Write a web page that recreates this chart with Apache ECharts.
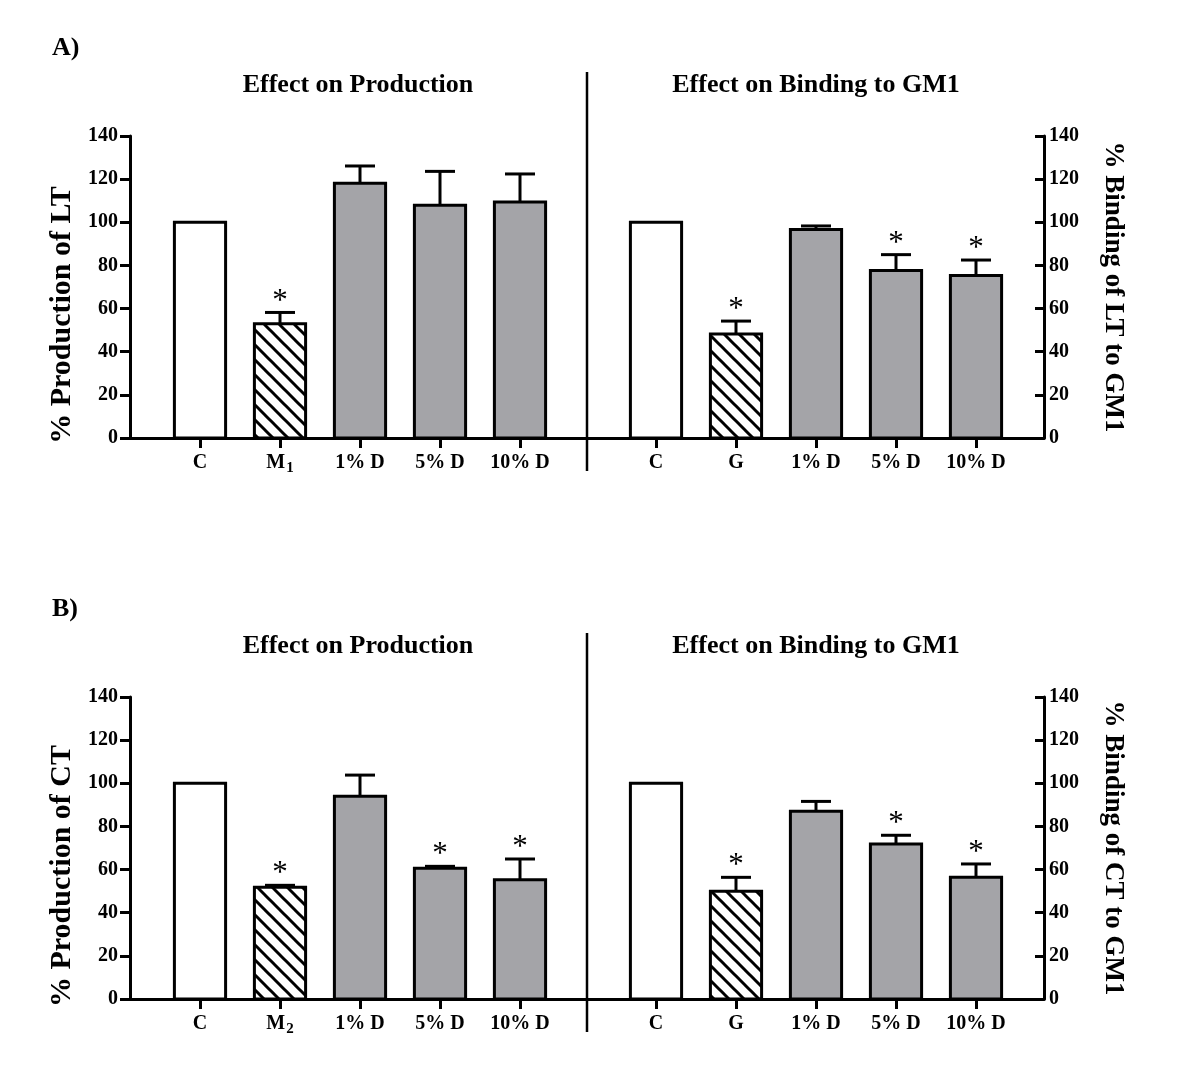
<!DOCTYPE html>
<html><head><meta charset="utf-8">
<script src="https://cdn.jsdelivr.net/npm/echarts@6/dist/echarts.min.js"></script>
<style>html,body{margin:0;padding:0;background:#fff}#c{width:1200px;height:1091px}</style>
</head><body><div id="c"></div>
<script>
// ---------- data ----------
const catsProdA = ['C', 'M₁', '1% D', '5% D', '10% D'];
const catsBindA = ['C', 'G', '1% D', '5% D', '10% D'];
const catsProdB = ['C', 'M₂', '1% D', '5% D', '10% D'];
const catsBindB = ['C', 'G', '1% D', '5% D', '10% D'];

const prodLT    = [100, 53.0, 118.1, 107.9, 109.4];
const prodLTErr = [0, 5.2, 8.0, 15.7, 13.0];
const prodLTSig = [0, 1, 0, 0, 0];

const bindLT    = [100, 48.2, 96.7, 77.6, 75.3];
const bindLTErr = [0, 6.0, 1.6, 7.4, 7.2];
const bindLTSig = [0, 1, 0, 1, 1];

const prodCT    = [100, 51.8, 94.0, 60.6, 55.3];
const prodCTErr = [0, 0.9, 9.8, 0.9, 9.6];
const prodCTSig = [0, 1, 0, 1, 1];

const bindCT    = [100, 49.9, 87.0, 71.9, 56.4];
const bindCTErr = [0, 6.5, 4.6, 4.0, 6.2];
const bindCTSig = [0, 1, 0, 1, 1];

const yMin = 0, yMax = 140, yStep = 20;

const panelTitles = ['A)', 'B)'];
const halfTitles = ['Effect on Production', 'Effect on Binding to GM1'];
const yNamesLeft = ['% Production of LT', '% Production of CT'];
const yNamesRight = ['% Binding of LT to GM1', '% Binding of CT to GM1'];

// ---------- layout helpers ----------
const FONT = '"Liberation Serif", "Times New Roman", serif';
const GRAY = '#a4a4a8';
const LEFT_OFF = 0.875, RIGHT_OFF = 6.575, X_MAX = 11.425;
const leftPos = i => i + LEFT_OFF;
const rightPos = i => i + RIGHT_OFF;
const allPos = [0,1,2,3,4].map(leftPos).concat([0,1,2,3,4].map(rightPos));

// hatch pattern
const hc = document.createElement('canvas');
const HS = 15;
hc.width = HS; hc.height = HS;
const hx = hc.getContext('2d');
hx.fillStyle = '#fff'; hx.fillRect(0, 0, HS, HS);
hx.strokeStyle = '#000'; hx.lineWidth = 3;
[[0,0,HS,HS],[-HS,0,0,HS],[0,-HS,HS,0]].forEach(s => { hx.beginPath(); hx.moveTo(s[0]-2, s[1]-2); hx.lineTo(s[2]+2, s[3]+2); hx.stroke(); });
const hatch = { image: hc, repeat: 'repeat' };

function renderItem(params, api) {
  const x = api.value(0), v = api.value(1), e = api.value(2), sig = api.value(3), kind = api.value(4);
  const base = api.coord([x, 0]);
  const top = api.coord([x, v]);
  const bw = api.size([1, 0])[0] * 0.64;
  const fill = kind === 0 ? '#fff' : (kind === 1 ? hatch : GRAY);
  const ch = [];
  let markTop = top[1];
  if (e > 0) {
    const et = api.coord([x, v + e]);
    markTop = et[1];
    ch.push({ type: 'line', shape: { x1: top[0], y1: top[1], x2: top[0], y2: et[1] }, style: { stroke: '#000', lineWidth: 3 } });
    ch.push({ type: 'line', shape: { x1: top[0] - 15, y1: et[1], x2: top[0] + 15, y2: et[1] }, style: { stroke: '#000', lineWidth: 3 } });
  }
  ch.push({ type: 'rect', shape: { x: top[0] - bw / 2, y: top[1], width: bw, height: base[1] - top[1] },
            style: { fill: fill, stroke: '#000', lineWidth: 3 } });
  if (sig) {
    ch.push({ type: 'text', style: { text: '*', x: top[0], y: markTop - 11, align: 'center', verticalAlign: 'middle',
              font: 'normal 31px ' + FONT, fill: '#000' } });
  }
  return { type: 'group', children: ch };
}

function seriesData(vals, errs, sigs, posFn) {
  return vals.map((v, i) => [posFn(i), v, errs[i], sigs[i], i === 0 ? 0 : (i === 1 ? 1 : 2)]);
}

const gridTops = [136, 697];
const panelShift = 561;
const catsByPanel = [catsProdA.concat(catsBindA), catsProdB.concat(catsBindB)];

const option = {
  animation: false,
  backgroundColor: '#fff',
  grid: gridTops.map(t => ({ left: 130, right: 156, top: t, height: 302 })),
  xAxis: [0, 1].map(p => ({
    type: 'value', gridIndex: p, min: 0, max: X_MAX,
    axisLine: { show: true, lineStyle: { color: '#000', width: 3 } },
    splitLine: { show: false },
    axisTick: { show: true, customValues: allPos, length: 10, lineStyle: { color: '#000', width: 3 } },
    axisLabel: {
      customValues: allPos, margin: 15, color: '#000', fontFamily: FONT, fontWeight: 'bold', fontSize: 20,
      formatter: val => {
        let idx = allPos.findIndex(q => Math.abs(q - val) < 1e-6);
        if (idx < 0) return '';
        const s = catsByPanel[p][idx];
        if (s.indexOf('₁') >= 0 || s.indexOf('₂') >= 0) {
          return '{m|' + s.replace(/[₁₂]/g, '') + '}{s|' + (s.indexOf('₁') >= 0 ? '1' : '2') + '}';
        }
        return s;
      },
      rich: {
        m: { fontSize: 20, fontWeight: 'bold', fontFamily: FONT, color: '#000', verticalAlign: 'top', lineHeight: 22 },
        s: { fontSize: 15, fontWeight: 'bold', fontFamily: FONT, color: '#000', verticalAlign: 'top', lineHeight: 18, padding: [8, 0, 0, 1] }
      }
    }
  })),
  yAxis: [],
  series: [],
  graphic: []
};

[0, 1].forEach(p => {
  option.yAxis.push({
    type: 'value', gridIndex: p, position: 'left', min: yMin, max: yMax, interval: yStep,
    name: yNamesLeft[p], nameLocation: 'middle', nameGap: 42,
    nameTextStyle: { fontFamily: FONT, fontWeight: 'bold', fontSize: 30, color: '#000', padding: [0, 56, 0, 0] },
    axisLine: { show: true, lineStyle: { color: '#000', width: 3 } },
    axisTick: { show: true, length: 10, lineStyle: { color: '#000', width: 3 } },
    axisLabel: { margin: 12, color: '#000', fontFamily: FONT, fontWeight: 'bold', fontSize: 20 },
    splitLine: { show: false }
  });
  option.yAxis.push({
    type: 'value', gridIndex: p, position: 'right', min: yMin, max: yMax, interval: yStep,
    name: yNamesRight[p], nameLocation: 'middle', nameGap: 55, nameRotate: -90,
    nameTextStyle: { fontFamily: FONT, fontWeight: 'bold', fontSize: 27, color: '#000' },
    axisLine: { show: true, lineStyle: { color: '#000', width: 3 } },
    axisTick: { show: true, inside: true, length: 9, lineStyle: { color: '#000', width: 3 } },
    axisLabel: { margin: 5, color: '#000', fontFamily: FONT, fontWeight: 'bold', fontSize: 20 },
    splitLine: { show: false }
  });
});

const sets = [
  [0, 0, prodLT, prodLTErr, prodLTSig, leftPos],
  [0, 1, bindLT, bindLTErr, bindLTSig, rightPos],
  [1, 2, prodCT, prodCTErr, prodCTSig, leftPos],
  [1, 3, bindCT, bindCTErr, bindCTSig, rightPos]
];
sets.forEach(s => {
  option.series.push({
    type: 'custom', xAxisIndex: s[0], yAxisIndex: s[1], renderItem: renderItem,
    encode: { x: 0, y: 1 }, clip: false,
    data: seriesData(s[2], s[3], s[4], s[5])
  });
});

[0, 1].forEach(p => {
  const dy = p * panelShift;
  option.graphic.push({ type: 'text', x: 52, y: 48 + dy, style: { text: panelTitles[p], font: 'bold 26px ' + FONT, fill: '#000', verticalAlign: 'middle' } });
  option.graphic.push({ type: 'text', x: 358, y: 85 + dy, style: { text: halfTitles[0], font: 'bold 26px ' + FONT, fill: '#000', align: 'center', verticalAlign: 'middle' } });
  option.graphic.push({ type: 'text', x: 816, y: 85 + dy, style: { text: halfTitles[1], font: 'bold 26px ' + FONT, fill: '#000', align: 'center', verticalAlign: 'middle' } });
  option.graphic.push({ type: 'line', shape: { x1: 587, y1: 72 + dy, x2: 587, y2: 471 + dy }, style: { stroke: '#000', lineWidth: 2.5 } });
});

const chart = echarts.init(document.getElementById('c'), null, { renderer: 'canvas' });
chart.setOption(option);
</script>
</body></html>
